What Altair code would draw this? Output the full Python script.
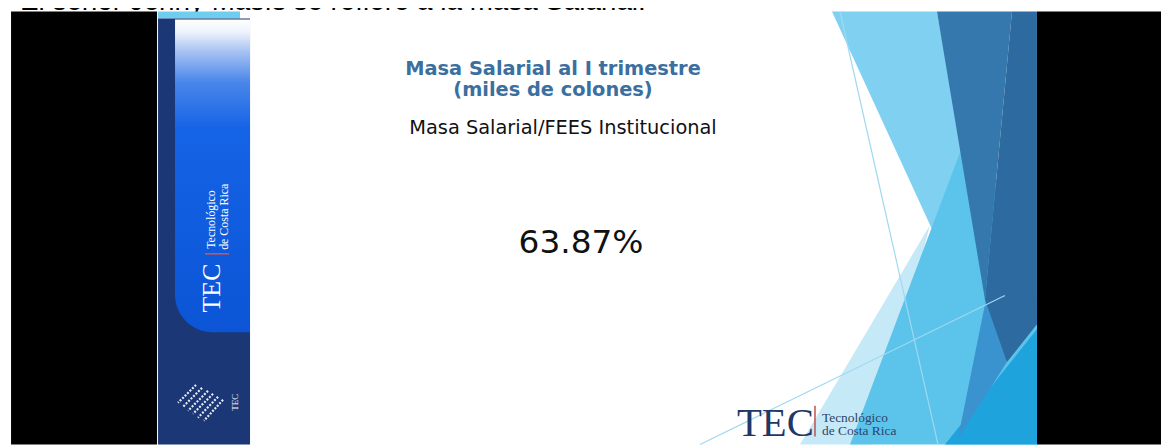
import altair as alt
import pandas as pd

# ---------------- slide content (page-pixel coordinate system) ----------------
caption = "El señor Jenny Masís se refiere a la masa Salarial."
title_text = "Masa Salarial al I trimestre\n(miles de colones)"
subtitle = "Masa Salarial/FEES Institucional"
big_value = "63.87%"
band_logo = ["TEC", "Tecnológico", "de Costa Rica"]
corner_logo = ["TEC", "Tecnológico\nde Costa Rica"]

# rectangles: x0, x1, y0, y1
black_x0 = [11, 1037]
black_x1 = [157, 1175]
black_y0 = [10, 10]
black_y1 = [446, 446]

# decorative facets on the right (vertex lists)
sail_x = [832, 937, 1010]
sail_y = [10, 10, 400]
pale_x = [930, 800, 872]
pale_y = [225, 446, 446]
mid_x = [972, 850, 1037, 1037]
mid_y = [120, 446, 446, 300]
bright_x = [945, 1037, 1037]
bright_y = [446, 446, 330]
wedge_x = [990, 1007, 958]
wedge_y = [280, 363, 440]
dark_x = [937, 1012, 985]
dark_y = [10, 10, 300]
darker_x = [1012, 1037, 1037, 1007, 985]
darker_y = [10, 10, 325, 363, 300]

line_x0 = [840, 700]
line_y0 = [10, 446]
line_x1 = [938, 1005]
line_y1 = [446, 296]

# dotted fan logo at the bottom of the band
fan_x0 = [196, 202, 208, 213, 218, 223]
fan_y0 = [386, 389, 392, 395, 398, 401]
fan_x1 = [178, 183, 188, 193, 198, 204]
fan_y1 = [404, 408, 412, 415, 419, 422]

XD = [7.95, 1161.05]
YD = [8, 446]


def X(f):
    return alt.X(f"{f}:Q", scale=alt.Scale(domain=XD, nice=False, zero=False), axis=None)


def Y(f):
    return alt.Y(f"{f}:Q", scale=alt.Scale(domain=YD, nice=False, zero=False, reverse=True), axis=None)


def slices(xs, ys):
    pts = list(zip(xs, ys))
    n = len(pts)
    rows = []
    for yl in sorted(set(ys)):
        cand = []
        for i in range(n):
            (x1, y1), (x2, y2) = pts[i], pts[(i + 1) % n]
            if y1 == y2 == yl:
                cand += [x1, x2]
            elif y1 != y2 and min(y1, y2) <= yl <= max(y1, y2):
                t = (yl - y1) / (y2 - y1)
                cand.append(x1 + t * (x2 - x1))
        rows.append({"y": yl, "xl": min(cand), "xr": max(cand)})
    return pd.DataFrame(rows)


def facet(xs, ys, color):
    return alt.Chart(slices(xs, ys)).mark_area(
        orient="horizontal", color=color, opacity=1, interpolate="linear"
    ).encode(y=Y("y"), x=X("xl"), x2=alt.X2("xr"))


def rect(x0, x1, y0, y1, **kw):
    df = pd.DataFrame({"x0": x0, "x1": x1, "y0": y0, "y1": y1})
    return alt.Chart(df).mark_rect(**kw).encode(
        x=X("x0"), x2=alt.X2("x1"), y=Y("y0"), y2=alt.Y2("y1")
    )


def text(label, x, y, **kw):
    df = pd.DataFrame({"t": [label], "x": [x], "y": [y]})
    return alt.Chart(df).mark_text(**kw).encode(x=X("x"), y=Y("y"), text="t:N")


def rules(x0, y0, x1, y1, **kw):
    df = pd.DataFrame({"x0": x0, "y0": y0, "x1": x1, "y1": y1})
    return alt.Chart(df).mark_rule(**kw).encode(
        x=X("x0"), y=Y("y0"), x2=alt.X2("x1"), y2=alt.Y2("y1")
    )


layers = []
# caption above the video frame (mostly cut off)
layers.append(text(caption, 20, 8, font="Liberation Sans", fontSize=28, color="black",
                   align="left", baseline="alphabetic"))
# black frame
layers.append(rect(black_x0, black_x1, black_y0, black_y1, color="black"))

# right facets
layers.append(facet(sail_x, sail_y, "#80d0f1"))
layers.append(facet(pale_x, pale_y, "#c6e9f7"))
layers.append(facet(mid_x, mid_y, "#5cc3eb"))
layers.append(facet(bright_x, bright_y, "#1fa3dd"))
layers.append(facet(wedge_x, wedge_y, "#3a93cf"))
layers.append(facet(dark_x, dark_y, "#3478ad"))
layers.append(facet(darker_x, darker_y, "#2c6a9f"))
layers.append(rules(line_x0, line_y0, line_x1, line_y1, color="#9fd9f1", strokeWidth=1.2))

# left band
layers.append(rect([158], [240], [10], [17], color="#6fcdee"))
layers.append(rect([158], [250], [17], [446], color="#1b3775"))
grad = alt.Gradient(
    gradient="linear",
    stops=[
        alt.GradientStop(color="#ffffff", offset=0),
        alt.GradientStop(color="#eef3fc", offset=0.04),
        alt.GradientStop(color="#a9c4f2", offset=0.1),
        alt.GradientStop(color="#4a86ea", offset=0.2),
        alt.GradientStop(color="#1563e6", offset=0.35),
        alt.GradientStop(color="#0b55d6", offset=1),
    ],
    x1=0, x2=0, y1=0, y2=1,
)
layers.append(rect([175], [250], [18], [333], fill=grad, cornerRadiusBottomLeft=60))
layers.append(text(band_logo[0], 220, 313, font="Liberation Serif", fontSize=26, color="white",
                   angle=270, align="left", baseline="alphabetic"))
layers.append(rules([205], [254], [229], [254], color="#d9534f", strokeWidth=1.5))
layers.append(text(band_logo[1], 215, 249, font="Liberation Serif", fontSize=12, color="white",
                   angle=270, align="left", baseline="alphabetic"))
layers.append(text(band_logo[2], 228, 250, font="Liberation Serif", fontSize=12, color="white",
                   angle=270, align="left", baseline="alphabetic"))
layers.append(rules(fan_x0, fan_y0, fan_x1, fan_y1, color="white", strokeWidth=2.2,
                    strokeDash=[2, 1.5], opacity=0.9))
layers.append(text("TEC", 238, 412, font="Liberation Serif", fontSize=9, color="white",
                   angle=270, align="left", baseline="alphabetic"))

# main texts
layers.append(text(title_text, 553, 74, font="DejaVu Sans", fontSize=19.5, fontWeight="bold",
                   color="#3b6fa0", align="center", baseline="alphabetic",
                   lineBreak="\n", lineHeight=21))
layers.append(text(subtitle, 563, 133, font="DejaVu Sans", fontSize=19.5, color="#111111",
                   align="center", baseline="alphabetic"))
layers.append(text(big_value, 581, 253, font="DejaVu Sans", fontSize=33, color="#111111",
                   align="center", baseline="alphabetic"))

# corner logo
layers.append(text(corner_logo[0], 737, 437, font="Liberation Serif", fontSize=41, color="#1f3866",
                   align="left", baseline="alphabetic"))
layers.append(rules([815], [407], [815], [438], color="#c0504d", strokeWidth=1.5))
layers.append(text(corner_logo[1], 822, 423, font="Liberation Serif", fontSize=13.5, color="#2f4468",
                   align="left", baseline="alphabetic", lineBreak="\n", lineHeight=13))

chart = alt.layer(*layers).properties(width=1161, height=438, padding=0, autosize="none",
                                     background="white").configure_view(stroke=None)

chart.save("out.html", embed_options={"renderer": "svg", "actions": False})
